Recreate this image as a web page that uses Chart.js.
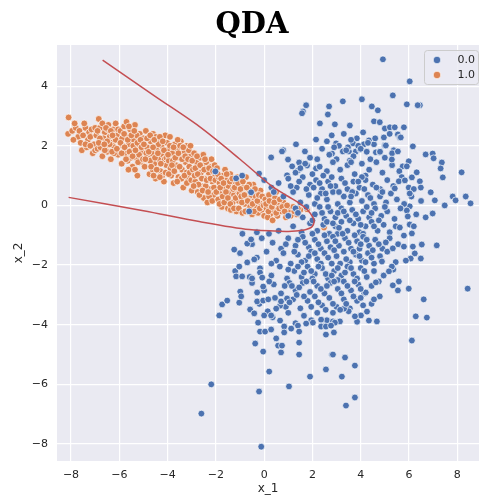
<!DOCTYPE html>
<html>
<head>
<meta charset="utf-8">
<script src="https://cdn.jsdelivr.net/npm/chart.js@4.4.1/dist/chart.umd.min.js"></script>
<style>
html,body{margin:0;padding:0;background:#fff}
</style>
</head>
<body>
<canvas id="c" width="480" height="496"></canvas>
<script>
// class 0.0 (blue) points
const bluePts = [
[4.92,4.9],[6.03,4.16],[5.33,3.69],[5.91,3.39],[6.45,3.36],[4.05,3.56],[3.26,3.49],[2.69,3.32],[2.64,3.05],[1.74,3.36],[1.61,3.15],[1.57,3.09],
[4.46,3.32],[4.71,3.19],[4.55,2.82],[4.79,2.79],[5.0,2.58],[5.21,2.62],[5.41,2.62],[5.79,2.62],[5.54,2.38],[5.62,2.28],[4.96,2.28],[3.55,2.68],
[2.93,2.72],[2.31,2.75],[2.15,2.21],[2.6,2.15],[2.98,2.08],[1.32,2.05],[1.69,1.81],[0.79,1.85],[0.29,1.61],[0.99,1.54],[1.16,1.31],[1.45,1.44],
[1.78,1.34],[1.4,1.17],[0.95,1.01],[2.15,1.24],[6.16,1.98],[6.69,1.71],[6.98,1.74],[7.02,1.58],[7.36,1.44],[7.4,0.94],[8.18,1.11],[7.81,0.3],
[7.93,0.17],[8.35,0.3],[8.55,0.07],[7.48,0.0],[7.07,0.17],[6.9,0.44],[6.45,0.81],[6.32,1.11],[6.12,0.94],[5.99,0.6],[5.99,1.48],[5.74,1.31],
[6.03,-0.03],[6.69,-0.4],[6.98,-0.27],[7.31,1.24],[6.36,3.36],[3.84,2.25],[4.34,2.18],[4.13,2.05],[3.68,2.08],[4.55,2.05],[5.0,2.01],[0.74,1.81],
[2.81,1.74],[3.26,1.81],[3.51,1.81],[3.8,1.81],[3.47,1.95],[3.97,1.88],[4.63,1.78],[4.79,1.78],[5.37,1.85],
[3.3,2.4],[3.6,2.2],[4.1,2.45],[4.3,2.1],[2.8,2.35],[3.9,2.0],[4.6,2.25],[5.2,2.4],[3.1,2.0],
[1.9,1.6],[2.4,1.9],[2.7,1.7],[3.0,1.55],[3.4,1.85],[3.7,1.65],[4.0,1.9],[4.4,1.55],[4.8,1.8],[5.3,1.75],[2.2,1.55],[3.55,1.5],[4.25,1.8],[5.0,1.6],[2.9,1.95],
[1.3,1.1],[1.7,1.4],[2.0,1.05],[2.3,1.3],[2.6,1.15],[2.85,1.45],[3.15,1.2],[3.45,1.35],[3.75,1.05],[4.05,1.4],[4.35,1.2],[4.65,1.45],[4.9,1.1],
[5.3,1.35],[5.6,1.15],[2.45,1.0],[3.6,1.45],[4.2,1.0],[1.5,1.25],
[0.6,0.75],[1.0,0.9],[1.35,0.6],[1.6,0.95],[1.9,0.7],[2.15,0.85],[2.4,0.55],[2.65,0.8],[2.95,0.65],[3.2,0.9],[3.45,0.55],[3.7,0.8],[3.95,0.6],
[4.2,0.85],[4.5,0.7],[4.8,0.55],[5.1,0.85],[5.35,0.65],[5.7,0.95],[6.2,0.55],[2.8,0.95],[4.05,0.95],[0.3,0.6],[0.0,0.85],
[0.8,0.3],[1.2,0.45],[1.5,0.1],[1.85,0.35],[2.1,0.05],[2.35,0.4],[2.6,0.2],[2.85,0.45],[3.05,0.05],[3.3,0.3],[3.55,0.1],[3.8,0.4],[4.05,0.15],
[4.3,0.35],[4.55,0.05],[4.8,0.3],[5.05,0.1],[5.25,0.4],[5.5,0.2],[5.8,0.05],[6.1,0.3],[6.5,0.15],[2.2,0.25],[3.65,0.45],[4.9,0.45],[0.4,0.45],
[1.0,-0.35],[1.3,-0.1],[1.6,-0.4],[2.3,-0.05],[2.5,-0.45],[2.75,-0.2],[2.95,-0.4],[3.2,-0.1],[3.4,-0.35],[3.65,-0.15],[3.9,-0.45],[4.1,-0.2],
[4.35,-0.4],[4.6,-0.1],[4.85,-0.35],[5.1,-0.2],[5.4,-0.45],[5.65,-0.1],[6.3,-0.3],[2.1,-0.3],[3.05,-0.25],[4.45,-0.25],
[0.2,-0.95],[0.6,-0.85],[1.2,-0.7],[1.55,-0.9],[1.9,-0.6],[2.2,-0.85],[2.45,-0.65],[2.7,-0.95],[2.95,-0.7],[3.2,-0.55],[3.45,-0.85],[3.7,-0.6],
[3.95,-0.9],[4.2,-0.7],[4.45,-0.55],[4.7,-0.85],[4.95,-0.65],[5.2,-0.9],[5.45,-0.7],[-0.3,-0.9],[-0.9,-0.95],[3.05,-0.95],[4.1,-0.95],[2.6,-0.55],
[-0.5,-1.3],[-0.1,-1.1],[0.35,-1.25],[0.7,-1.45],[1.0,-1.1],[1.3,-1.35],[1.6,-1.05],[1.85,-1.4],[2.1,-1.15],[2.35,-1.45],[2.6,-1.2],[2.85,-1.05],
[3.1,-1.35],[3.35,-1.1],[3.6,-1.45],[3.85,-1.2],[4.1,-1.05],[4.35,-1.35],[4.6,-1.15],[4.9,-1.45],[5.2,-1.1],[5.55,-1.3],[0.9,-1.3],[2.75,-1.4],[3.95,-1.45],
[-1.0,-1.6],[-0.3,-1.75],[0.1,-1.55],[0.5,-1.85],[0.8,-1.6],[1.1,-1.95],[1.4,-1.65],[1.7,-1.85],[1.95,-1.55],[2.2,-1.8],[2.5,-1.6],[2.8,-1.95],
[3.0,-1.7],[3.3,-1.55],[3.55,-1.9],[3.8,-1.65],[4.05,-1.85],[4.3,-1.6],[4.55,-1.95],[4.8,-1.7],[5.1,-1.55],[5.45,-1.9],[2.35,-1.95],[3.15,-1.95],[1.25,-1.55],[0.3,-1.95],
[-1.2,-2.2],[-0.6,-2.4],[-0.15,-2.1],[0.3,-2.35],[0.65,-2.05],[0.95,-2.45],[1.25,-2.2],[1.55,-2.4],[1.8,-2.05],[2.1,-2.3],[2.4,-2.1],[2.65,-2.45],
[2.9,-2.2],[3.2,-2.35],[3.45,-2.05],[3.7,-2.3],[4.0,-2.1],[4.25,-2.4],[4.55,-2.2],[4.95,-2.35],[5.35,-2.15],[1.0,-2.15],[2.0,-2.45],[3.05,-2.5],
[-0.5,-2.6],[0.0,-2.85],[0.4,-2.65],[0.7,-2.95],[1.05,-2.6],[1.3,-2.85],[1.6,-2.6],[1.9,-2.9],[2.2,-2.7],[2.5,-2.95],[2.75,-2.6],[3.05,-2.8],
[3.3,-2.55],[3.6,-2.85],[3.9,-2.65],[4.15,-2.95],[4.45,-2.7],[4.75,-2.55],[2.05,-2.55],[0.85,-2.7],
[-0.2,-3.3],[0.45,-3.1],[0.9,-3.4],[1.2,-3.15],[1.5,-3.45],[1.8,-3.2],[2.1,-3.05],[2.4,-3.35],[2.7,-3.1],[3.0,-3.4],[3.3,-3.15],[3.55,-3.45],
[3.85,-3.2],[4.1,-3.35],[4.45,-3.3],[1.35,-3.0],[2.55,-3.5],
[0.35,-3.75],[1.0,-3.6],[1.3,-3.95],[1.65,-3.7],[2.2,-3.6],[2.6,-3.85],[3.5,-3.55],[3.85,-3.9],[1.95,-3.85],[2.85,-3.6],[0.15,-3.55],
[-1.86,-3.69],[-1.74,-3.32],[-1.53,-3.19],[-1.03,-3.26],[-0.99,-2.89],[-0.95,-3.05],[-0.58,-3.49],[-0.41,-3.62],[-1.16,-2.38],[-0.91,-2.38],
[-1.03,-2.05],[-1.24,-1.48],[-0.7,-1.28],[-0.54,-1.14],[-0.7,-1.91],[-0.41,-1.81],[-0.17,-2.11],[-0.17,-2.25],[-0.5,-2.45],[-0.08,-2.42],
[0.21,-2.55],[-0.04,-2.72],[-0.29,-2.92],[-0.29,-3.22],[-0.04,-3.19],[0.17,-3.15],[0.0,-3.69],[0.29,-3.69],[-0.25,-3.93],[-0.17,-4.23],
[0.04,-4.23],[0.29,-4.16],[0.66,-3.86],[0.83,-4.06],[1.12,-4.13],[1.4,-4.03],[1.45,-4.23],[1.74,-3.96],[2.02,-3.93],[2.36,-3.83],[2.36,-4.06],
[2.56,-4.06],[2.56,-4.33],[2.89,-4.26],[2.85,-3.89],[0.66,-3.36],[0.7,-3.22],[0.95,-3.12],[0.5,-3.46],
[-0.12,-8.09],[-2.6,-6.98],[-2.19,-6.0],[-0.21,-6.24],[0.21,-5.57],[1.03,-6.07],[1.9,-5.74],[2.56,-5.5],[3.22,-5.74],[3.76,-6.44],[3.39,-6.71],
[2.81,-5.0],[3.35,-5.1],[3.76,-5.37],[1.45,-5.0],[0.7,-4.93],[-0.04,-4.9],[-0.37,-4.63],[0.58,-4.7],[0.74,-4.7],[0.5,-4.46],[1.45,-4.6],
[0.83,-4.26],[2.85,-5.0],
[8.43,-2.79],[7.15,-1.34],[6.53,-1.31],[6.24,-1.61],[6.49,-1.78],[6.07,-1.78],[5.87,-1.85],[6.12,-0.94],[5.79,-1.01],[6.16,-1.38],[5.79,-1.38],
[5.29,-2.05],[5.17,-2.21],[5.58,-2.55],[5.33,-2.68],[5.54,-2.85],[5.99,-2.79],[6.61,-3.15],[6.28,-3.72],[6.74,-3.76],[6.12,-4.53],[4.88,-1.88],
[5.33,-1.44],[5.04,-1.24],[4.79,-3.05],[4.67,-3.89],[4.34,-3.86],[4.55,-3.15],[4.63,-2.58],[4.21,-2.92],[4.26,-3.56],[4.01,-3.69],[3.76,-3.72],
[3.31,-3.46],[3.14,-3.89],[2.93,-3.93],[2.77,-4.03],
[5.91,-0.17],[5.95,-0.37],[6.03,-0.64],[6.2,-0.7],[5.62,-0.74],[5.41,0.57],[5.58,0.81],[5.83,0.84],[6.03,0.4],[6.49,0.6],[5.29,1.54],[5.54,1.81],
[5.04,2.01],[5.66,2.28],[5.91,1.31],
[-2.02,1.14],[-1.16,0.91],[-0.91,1.0],[-0.21,1.07],[-0.54,0.44],[-0.62,-0.2],
[1.1,0.65],[1.45,0.8],[1.75,0.55],[2.05,0.6],[2.3,0.75],[2.55,0.4],[2.75,0.65],[3.1,0.45],[3.35,0.75],[3.6,0.3],[3.9,0.8],[4.15,0.55],[4.4,0.25],[4.65,0.6],
[1.4,-0.25],[1.75,-0.05],[2.0,-0.5],[2.4,-0.25],[2.65,-0.05],[2.85,-0.6],[3.1,-0.75],[3.3,-0.2],[3.55,-0.5],[3.8,-0.3],[4.0,-0.65],[4.25,-0.05],[4.55,-0.7],[4.75,-0.5],[5.0,-0.05],
[1.4,-1.15],[1.7,-1.25],[2.0,-0.95],[2.25,-1.3],[2.5,-1.0],[2.95,-1.2],[3.25,-0.95],[3.5,-1.25],[3.75,-1.0],[4.0,-1.3],[4.25,-1.15],[4.5,-1.5],[4.75,-1.3],
[1.55,-1.9],[1.85,-1.7],[2.1,-1.6],[2.65,-1.75],[2.9,-1.5],[3.4,-1.8],[3.7,-1.55],[3.95,-1.7],[4.2,-1.9],[4.45,-1.75],
[1.4,-2.05],[1.65,-2.25],[1.95,-2.2],[2.25,-2.05],[2.55,-2.3],[2.8,-2.35],[3.05,-2.1],[3.35,-2.25],[3.6,-2.1],[3.85,-2.45],[4.15,-2.2],
[1.15,-2.7],[1.45,-2.75],[1.75,-2.55],[2.35,-2.8],[2.6,-2.7],[2.9,-2.55],[3.2,-2.95],[3.45,-2.7],[3.75,-2.55],[4.0,-2.8],
[1.05,-3.25],[1.65,-3.05],[1.95,-3.4],[2.25,-3.25],[2.85,-3.3],[3.15,-3.5],[3.4,-3.3],[3.7,-3.05],[4.0,-3.1]
];

// class 1.0 (orange) points
const orangePts = [
[-8.1,2.95],[-8.12,2.4],[-7.95,2.5],[-7.7,2.3],[-7.55,1.85],[-7.4,2.6],[-7.3,2.2],[-7.25,2.45],[-7.1,1.75],[-7.05,2.05],[-7.6,2.1],[-7.45,2.75],
[-7.15,2.55],[-7.35,1.95],[-7.8,2.6],
[-7.9,2.2],[-7.65,2.5],[-7.5,2.35],[-7.2,2.3],[-7.0,2.6],[-7.4,2.05],[-7.85,2.75],[-7.0,1.85],[-7.2,2.0],
[-6.95,2.35],[-6.9,1.9],[-6.85,2.9],[-6.8,2.6],[-6.75,2.15],[-6.7,1.65],[-6.6,2.45],[-6.55,2.0],[-6.5,1.8],[-6.45,2.7],[-6.4,2.3],[-6.35,1.55],
[-6.3,2.1],[-6.25,2.55],[-6.2,1.95],[-6.15,2.75],[-6.1,2.35],[-6.05,1.7],[-6.0,2.15],[-6.65,2.25],[-6.48,2.55],[-6.22,1.75],[-6.78,1.95],
[-6.9,2.5],[-6.8,2.25],[-6.7,2.75],[-6.6,1.85],[-6.55,2.6],[-6.4,2.05],[-6.35,2.5],[-6.3,1.8],[-6.15,2.2],[-6.1,1.9],[-6.05,2.55],[-6.5,2.15],
[-6.28,2.35],[-6.85,2.1],[-6.62,2.05],
[-5.95,2.5],[-5.9,1.4],[-5.85,2.0],[-5.8,2.65],[-5.75,1.75],[-5.7,2.3],[-5.65,1.5],[-5.6,2.05],[-5.55,2.55],[-5.5,1.85],[-5.45,1.3],[-5.4,2.2],
[-5.35,2.7],[-5.3,1.6],[-5.25,1.0],[-5.2,2.0],[-5.15,2.4],[-5.1,1.45],[-5.05,1.8],[-5.0,2.25],[-5.88,2.25],[-5.62,1.2],[-5.42,2.0],[-5.18,1.7],
[-5.7,2.8],[-5.28,2.35],[-5.52,1.6],
[-5.95,2.1],[-5.9,1.75],[-5.8,2.4],[-5.78,1.95],[-5.72,1.55],[-5.65,2.2],[-5.58,1.8],[-5.5,2.35],[-5.45,1.65],[-5.38,2.5],[-5.33,1.85],[-5.25,2.1],
[-5.22,1.45],[-5.12,2.2],[-5.08,1.95],[-5.02,1.55],[-5.6,2.65],[-5.35,1.2],
[-4.95,1.3],[-4.9,2.5],[-4.85,1.95],[-4.8,1.6],[-4.75,1.05],[-4.7,2.15],[-4.65,1.75],[-4.6,2.4],[-4.55,1.4],[-4.5,0.9],[-4.45,1.9],[-4.4,2.25],
[-4.35,1.55],[-4.3,1.15],[-4.25,2.0],[-4.2,1.7],[-4.15,0.8],[-4.1,2.35],[-4.05,1.35],[-4.0,1.85],[-4.88,1.75],[-4.62,1.2],[-4.38,2.05],[-4.12,1.55],
[-4.72,1.5],[-4.48,2.3],[-4.22,1.0],[-4.02,2.1],
[-4.98,2.05],[-4.92,1.55],[-4.85,2.25],[-4.78,1.8],[-4.72,2.35],[-4.68,1.3],[-4.6,1.95],[-4.55,2.2],[-4.52,1.6],[-4.45,1.2],[-4.4,1.75],[-4.32,2.3],
[-4.28,1.4],[-4.2,2.15],[-4.15,1.85],[-4.08,1.1],[-4.05,1.6],[-4.32,0.95],[-4.58,1.0],
[-3.95,1.5],[-3.9,2.3],[-3.85,1.0],[-3.8,1.75],[-3.75,0.75],[-3.7,2.05],[-3.65,1.35],[-3.6,1.9],[-3.55,0.95],[-3.5,1.6],[-3.45,2.15],[-3.4,1.2],
[-3.35,0.6],[-3.3,1.8],[-3.25,1.45],[-3.2,2.0],[-3.15,0.9],[-3.1,1.3],[-3.05,1.65],[-3.0,0.5],[-3.88,1.25],[-3.62,1.6],[-3.42,0.9],[-3.22,1.1],
[-3.58,2.2],[-3.78,1.5],[-3.12,1.85],
[-3.98,1.7],[-3.95,1.05],[-3.9,2.0],[-3.82,1.35],[-3.75,1.95],[-3.72,1.15],[-3.68,1.6],[-3.6,0.8],[-3.55,1.75],[-3.5,1.3],[-3.48,2.0],[-3.4,1.55],
[-3.35,1.95],[-3.3,1.0],[-3.27,1.65],[-3.2,0.75],[-3.15,1.55],[-3.08,1.1],[-3.05,2.0],[-3.02,0.85],
[-2.95,1.2],[-2.9,1.75],[-2.85,0.8],[-2.8,1.45],[-2.75,0.45],[-2.7,1.0],[-2.65,1.6],[-2.6,0.65],[-2.55,1.3],[-2.5,0.25],[-2.45,0.9],[-2.4,1.45],
[-2.35,0.1],[-2.3,1.1],[-2.25,0.55],[-2.2,1.3],[-2.15,0.8],[-2.1,0.35],[-2.05,1.0],[-2.0,0.6],[-2.88,1.0],[-2.62,1.1],[-2.42,0.65],[-2.18,1.55],
[-2.72,0.7],[-2.52,1.7],[-2.28,0.3],
[-2.98,1.5],[-2.92,0.65],[-2.85,1.25],[-2.78,1.65],[-2.75,1.05],[-2.68,0.35],[-2.65,1.35],[-2.58,0.9],[-2.55,0.5],[-2.48,1.2],[-2.45,1.55],[-2.38,0.85],
[-2.32,0.45],[-2.28,1.25],[-2.22,0.9],[-2.15,0.15],[-2.12,1.15],[-2.08,0.6],[-2.02,0.85],[-2.05,1.35],
[-1.95,1.25],[-1.9,0.2],[-1.85,0.75],[-1.8,0.45],[-1.75,-0.05],[-1.7,1.0],[-1.65,0.55],[-1.6,0.2],[-1.55,0.85],[-1.5,-0.1],[-1.45,0.4],[-1.4,1.05],
[-1.35,0.65],[-1.3,0.1],[-1.25,0.35],[-1.2,0.8],[-1.15,-0.2],[-1.1,0.5],[-1.05,0.15],[-1.0,0.7],[-1.88,0.95],[-1.62,1.2],[-1.38,-0.15],[-1.12,0.95],
[-1.72,0.3],[-1.48,0.65],[-1.28,0.55],
[-1.98,0.45],[-1.92,1.05],[-1.85,0.05],[-1.82,0.6],[-1.78,0.9],[-1.68,0.75],[-1.65,0.1],[-1.58,0.45],[-1.55,1.05],[-1.5,0.25],[-1.42,0.8],[-1.4,0.05],
[-1.32,0.9],[-1.25,-0.1],[-1.22,0.6],[-1.18,0.25],[-1.08,0.75],[-1.05,-0.1],[-1.02,0.4],
[-0.95,0.3],[-0.9,-0.25],[-0.85,0.6],[-0.8,0.05],[-0.75,0.95],[-0.7,0.35],[-0.65,-0.15],[-0.6,0.5],[-0.55,0.15],[-0.5,-0.3],[-0.45,0.7],[-0.4,0.25],
[-0.35,-0.05],[-0.3,0.4],[-0.25,-0.25],[-0.2,0.1],[-0.15,0.5],[-0.1,-0.15],[-0.05,0.25],[0.0,-0.35],[-0.88,0.8],[-0.62,0.7],[-0.38,0.55],[-0.12,0.05],
[-0.98,0.55],[-0.92,0.1],[-0.82,0.35],[-0.78,-0.2],[-0.72,0.6],[-0.68,0.15],[-0.58,-0.05],[-0.52,0.35],[-0.48,0.05],[-0.42,-0.2],[-0.35,0.3],[-0.28,0.15],
[-0.22,0.35],[-0.18,-0.1],[-0.08,0.3],[-0.02,0.0],
[0.05,0.2],[0.1,-0.1],[0.2,0.35],[0.25,-0.3],[0.3,0.05],[0.4,-0.15],[0.45,0.25],[0.55,-0.35],[0.6,0.0],[0.7,-0.2],[0.8,0.1],[0.9,-0.4],[1.0,-0.15],
[1.05,-0.25],[1.2,-0.05],[1.35,-0.3],[1.5,-0.15],[1.78,-0.13],[2.48,-0.74],[0.15,-0.4],[0.5,0.45],[0.35,-0.5],
[0.08,0.05],[0.18,-0.2],[0.22,0.15],[0.32,-0.05],[0.42,0.1],[0.5,-0.25],[0.62,-0.1],[0.65,0.2],[0.75,-0.05],[0.85,-0.2],[0.95,0.0],[1.1,-0.35],
[1.25,-0.2],[1.4,-0.1]
];

// QDA decision boundary
const boundaryPts = [
[-6.69,4.87],[-4.5,3.65],[-2.69,2.65],[-1.0,1.55],[0.33,0.64],[1.0,0.3],[1.45,0.08],[1.8,-0.15],[2.02,-0.4],[2.07,-0.55],
[1.98,-0.72],[1.74,-0.81],[1.3,-0.86],[0.91,-0.87],[-0.62,-0.81],[-2.69,-0.54],[-5.0,-0.18],[-8.1,0.27]
];

const xTicks = [-8,-6,-4,-2,0,2,4,6,8];
const yTicks = [-8,-6,-4,-2,0,2,4];
const legendLabels = ['0.0','1.0'];

const BLUE = '#4c72b0', ORANGE = '#dd8452', RED = '#c44e52', INK = '#262626';
const toXY = a => a.map(p => ({x:p[0], y:p[1]}));
const minus = v => v < 0 ? '\u2212' + Math.abs(v) : String(v);

const decor = {
  id:'decor',
  beforeDraw(chart){
    const {ctx, chartArea:a} = chart;
    ctx.save();
    ctx.fillStyle = '#eaeaf2';
    ctx.fillRect(a.left, a.top, a.right-a.left, a.bottom-a.top);
    ctx.restore();
  },
  afterDraw(chart){
    const ctx = chart.ctx;
    ctx.save();
    // title
    ctx.fillStyle = '#000';
    ctx.font = 'bold 29px "DejaVu Serif"';
    ctx.textAlign = 'center';
    ctx.textBaseline = 'alphabetic';
    ctx.fillText('QDA', 252, 33);
    // legend box
    const bx = 424, by = 50, bw = 54, bh = 34;
    ctx.beginPath();
    ctx.roundRect(bx+0.5, by+0.5, bw, bh, 3);
    ctx.fillStyle = 'rgba(234,234,242,0.8)';
    ctx.fill();
    ctx.strokeStyle = '#cccccc';
    ctx.lineWidth = 1;
    ctx.stroke();
    const cols = [BLUE, ORANGE];
    ctx.font = '11px "DejaVu Sans"';
    ctx.textAlign = 'right';
    ctx.textBaseline = 'middle';
    legendLabels.forEach((t,i) => {
      const cy = 60 + i*15;
      ctx.beginPath();
      ctx.arc(437, cy, 3.8, 0, Math.PI*2);
      ctx.fillStyle = cols[i];
      ctx.fill();
      ctx.strokeStyle = '#fff';
      ctx.lineWidth = 0.7;
      ctx.stroke();
      ctx.fillStyle = INK;
      ctx.fillText(t, 475, cy);
    });
    ctx.restore();
  }
};

new Chart(document.getElementById('c'), {
  type:'scatter',
  data:{
    datasets:[
      {label:'boundary', data:toXY(boundaryPts), showLine:true, borderColor:RED, borderWidth:1.5,
       pointRadius:0, tension:0.3, fill:false, order:0},
      {label:'0.0', data:toXY(bluePts), backgroundColor:BLUE, borderColor:'#fff', borderWidth:0.7,
       pointRadius:3.4, order:1},
      {label:'1.0', data:toXY(orangePts), backgroundColor:ORANGE, borderColor:'#fff', borderWidth:0.7,
       pointRadius:3.4, order:2}
    ]
  },
  options:{
    responsive:false,
    devicePixelRatio:1,
    animation:false,
    // autoPadding would reserve room for point radius on the right edge
    layout:{autoPadding:false, padding:{top:45, right:1, left:0, bottom:0}},
    plugins:{legend:{display:false}, tooltip:{enabled:false}},
    scales:{
      x:{
        type:'linear', min:-8.58, max:8.9,
        afterBuildTicks: s => { s.ticks = xTicks.map(v => ({value:v})); },
        afterFit: s => { s.height = 35; s.paddingLeft = 0; s.paddingRight = 0; },
        grid:{color:'#ffffff', lineWidth:1.2, drawTicks:false},
        border:{display:false},
        ticks:{padding:8, color:INK, font:{family:'DejaVu Sans', size:11}, callback:minus},
        title:{display:true, text:'x_1', color:INK, font:{family:'DejaVu Sans', size:12}, padding:{top:0, bottom:0}}
      },
      y:{
        type:'linear', min:-8.57, max:5.38,
        afterBuildTicks: s => { s.ticks = yTicks.map(v => ({value:v})); },
        afterFit: s => { s.width = 57; s.paddingTop = 0; s.paddingBottom = 0; },
        grid:{color:'#ffffff', lineWidth:1.2, drawTicks:false},
        border:{display:false},
        ticks:{padding:9, color:INK, font:{family:'DejaVu Sans', size:11}, callback:minus},
        title:{display:true, text:'x_2', color:INK, font:{family:'DejaVu Sans', size:12}, padding:{top:12, bottom:0}}
      }
    }
  },
  plugins:[decor]
});
</script>
</body>
</html>
